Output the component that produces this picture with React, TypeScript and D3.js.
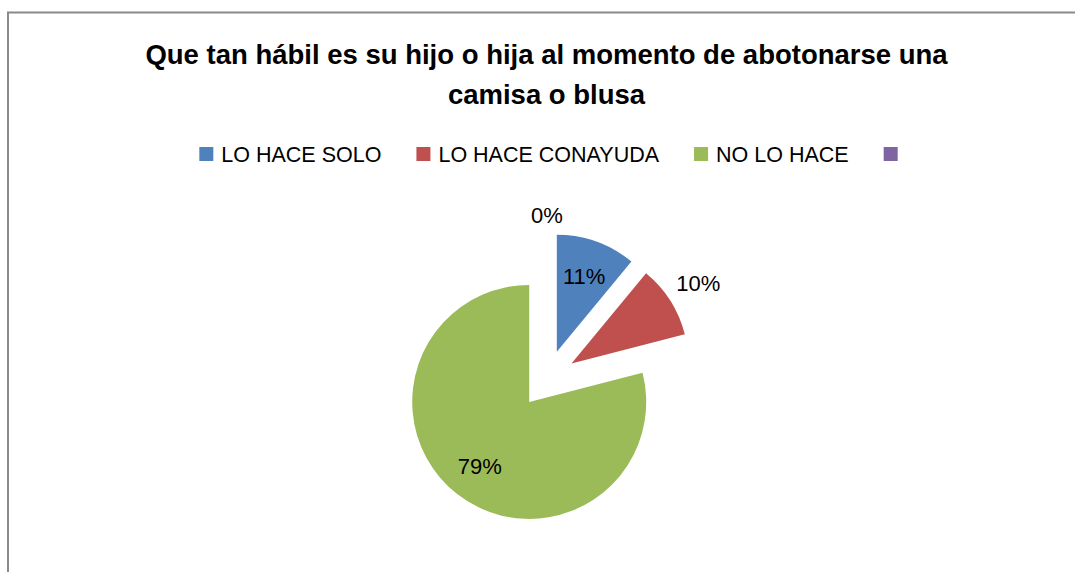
import React, { useEffect, useRef } from "react";
import * as d3 from "d3";

const categories = ["LO HACE SOLO", "LO HACE CONAYUDA", "NO LO HACE", ""];
const values = [11, 10, 79, 0];
const percentLabels = ["11%", "10%", "79%", "0%"];
const titleLines = ["Que tan hábil es su hijo o hija al momento de abotonarse una", "camisa o blusa"];

const colors = ["#4F81BD", "#C0504D", "#9BBB59", "#8064A2"];
const labelPlacement = ["inside", "outside", "inside", "outside"];

const W = 1075;
const H = 572;
const FONT = "'Liberation Sans', Arial, sans-serif";

export default function App() {
  const ref = useRef<SVGSVGElement | null>(null);

  useEffect(() => {
    const svg = d3.select(ref.current);
    svg.selectAll("*").remove();

    svg
      .append("rect")
      .attr("x", 8)
      .attr("y", 12.5)
      .attr("width", 1200)
      .attr("height", 1000)
      .attr("fill", "#fff")
      .attr("stroke", "#8a8a8a")
      .attr("stroke-width", 2);

    // Title
    const title = svg
      .append("text")
      .attr("text-anchor", "middle")
      .attr("font-family", FONT)
      .attr("font-weight", "bold")
      .attr("font-size", 27.5)
      .attr("fill", "#000");
    title.append("tspan").attr("x", 546.5).attr("y", 64).text(titleLines[0]);
    title.append("tspan").attr("x", 546.5).attr("y", 104).text(titleLines[1]);

    // Legend
    const legend = svg.append("g");
    const sq = 14;
    const gapText = 8;
    const gapItem = 35;
    let x = 0;
    categories.forEach((c, i) => {
      const g = legend.append("g").attr("transform", `translate(${x},0)`);
      g.append("rect")
        .attr("x", 0)
        .attr("y", 147)
        .attr("width", sq)
        .attr("height", sq)
        .attr("fill", colors[i]);
      const t = g
        .append("text")
        .attr("x", sq + gapText)
        .attr("y", 162)
        .attr("font-family", FONT)
        .attr("font-size", 21.5)
        .attr("fill", "#000")
        .text(c);
      const tw = c ? (t.node() as SVGTextElement).getComputedTextLength() : 0;
      x += sq + (c ? gapText + tw : 0) + gapItem;
    });
    const legendW = x - gapItem;
    legend.attr("transform", `translate(${548.5 - legendW / 2},0)`);

    // Pie
    const cx = 547;
    const cy = 379;
    const r = 117;
    const explode = 29;
    const pie = d3.pie<number>().sort(null).value((d) => d);
    const arcs = pie(values);
    const arc = d3.arc<d3.PieArcDatum<number>>().innerRadius(0).outerRadius(r);

    const g = svg.append("g").attr("transform", `translate(${cx},${cy})`);
    arcs.forEach((a, i) => {
      const mid = (a.startAngle + a.endAngle) / 2;
      const dx = Math.sin(mid) * explode;
      const dy = -Math.cos(mid) * explode;
      const sg = g.append("g").attr("transform", `translate(${dx},${dy})`);
      if (a.endAngle > a.startAngle) {
        sg.append("path").attr("d", arc(a) as string).attr("fill", colors[i]);
      }
      const ux = Math.sin(mid);
      const uy = -Math.cos(mid);
      let dist: number;
      if (labelPlacement[i] === "inside") {
        dist = r * 0.69;
      } else {
        const hw = percentLabels[i].length * 11 * 0.68;
        const hh = 8;
        dist = r + 10 + Math.abs(ux) * hw + Math.abs(uy) * hh;
      }
      sg.append("text")
        .attr("x", ux * dist)
        .attr("y", uy * dist)
        .attr("dy", "0.358em")
        .attr("text-anchor", "middle")
        .attr("font-family", FONT)
        .attr("font-size", 22)
        .attr("fill", "#000")
        .text(percentLabels[i]);
    });
  }, []);

  return (
    <svg
      ref={ref}
      width={W}
      height={H}
      style={{ position: "absolute", left: 0, top: 0, background: "#fff" }}
    />
  );
}
